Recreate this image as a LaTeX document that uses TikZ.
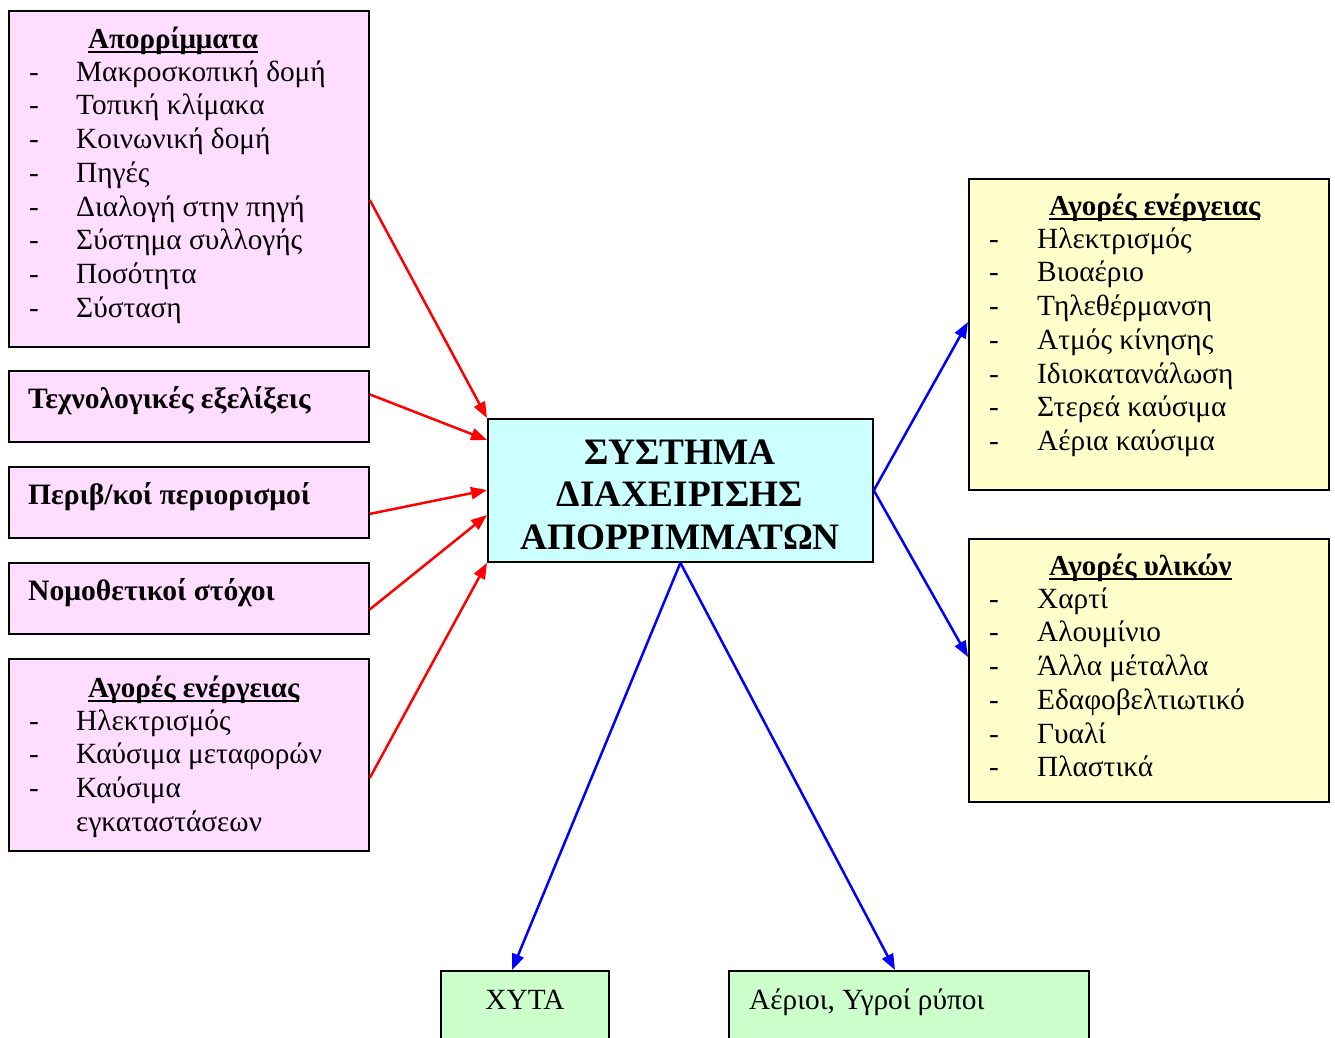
\documentclass[tikz,border=0pt]{standalone}
\usepackage{fontspec}
\setmainfont{Liberation Serif}
\usetikzlibrary{arrows.meta,calc}
\definecolor{pinkfill}{RGB}{255,221,255}
\definecolor{cyanfill}{RGB}{204,255,255}
\definecolor{yellowfill}{RGB}{255,255,204}
\definecolor{greenfill}{RGB}{204,255,204}
\definecolor{arrred}{RGB}{255,0,0}
\definecolor{arrblue}{RGB}{0,0,255}
\newcommand{\ulx}[1]{\setbox0\hbox{#1}\rlap{\rule[-4.5pt]{\wd0}{1.8pt}}\box0}
\begin{document}
\begin{tikzpicture}[x=1pt,y=-1pt,
  box/.style={draw=black,line width=1.8pt,inner sep=0pt,anchor=north west},
  pinkbox/.style={box,fill=pinkfill},
  yellowbox/.style={box,fill=yellowfill},
  greenbox/.style={box,fill=greenfill},
  cyanbox/.style={box,fill=cyanfill},
  itemtxt/.style={anchor=base west,inner sep=0pt,font=\fontsize{29.3}{33.7}\selectfont},
  titletxt/.style={anchor=base west,inner sep=0pt,font=\fontsize{29}{33.7}\selectfont\bfseries},
  labeltxt/.style={anchor=base west,inner sep=0pt,font=\fontsize{29.6}{33.7}\selectfont\bfseries},
  bigtxt/.style={anchor=base,inner sep=0pt,font=\fontsize{37.3}{42.5}\selectfont\bfseries},
  redarr/.style={draw=arrred,line width=2.5pt,-{Triangle[length=16pt,width=12pt]}},
  bluearr/.style={draw=arrblue,line width=2.5pt,-{Triangle[length=16pt,width=12pt]}}
]
\useasboundingbox (0,0) rectangle (1335,1037);
\fill[white] (0,0) rectangle (1335,1037);

% left boxes
\node[pinkbox,minimum width=360pt,minimum height=336pt] (A) at (8,10) {};
\node[pinkbox,minimum width=360pt,minimum height=71pt] (B) at (8,370) {};
\node[pinkbox,minimum width=360pt,minimum height=71pt] (C) at (8,466) {};
\node[pinkbox,minimum width=360pt,minimum height=71pt] (D) at (8,562) {};
\node[pinkbox,minimum width=360pt,minimum height=192pt] (E) at (8,658) {};
% centre
\node[cyanbox,minimum width=385pt,minimum height=143pt] (S) at (487,418) {};
% right boxes
\node[yellowbox,minimum width=360pt,minimum height=311pt] (R1) at (968,178) {};
\node[yellowbox,minimum width=360pt,minimum height=263pt] (R2) at (968,538) {};
% bottom boxes
\node[greenbox,minimum width=168pt,minimum height=90pt] (X) at (440,970) {};
\node[greenbox,minimum width=360pt,minimum height=90pt] (Y) at (728,970) {};

% texts box A
\node[titletxt] (Atitle) at (88,48) {\ulx{Απορρίμματα}};
\foreach \t [count=\i] in {Μακροσκοπική δομή,Τοπική κλίμακα,Κοινωνική δομή,Πηγές,Διαλογή στην πηγή,Σύστημα συλλογής,Ποσότητα,Σύσταση}{
  \node[itemtxt] (Ad\i) at (29,{81+(\i-1)*33.75}) {-};
  \node[itemtxt] (At\i) at (76,{81+(\i-1)*33.75}) {\t};
}
\node[labeltxt] (Bt) at (28,408) {Τεχνολογικές εξελίξεις};
\node[labeltxt] (Ct) at (28,504) {Περιβ/κοί περιορισμοί};
\node[labeltxt] (Dt) at (28,600) {Νομοθετικοί στόχοι};

% box E
\node[titletxt] (Etitle) at (88,697) {\ulx{Αγορές ενέργειας}};
\foreach \t [count=\i] in {Ηλεκτρισμός,Καύσιμα μεταφορών,Καύσιμα}{
  \node[itemtxt] (Ed\i) at (29,{730+(\i-1)*33.75}) {-};
  \node[itemtxt] (Et\i) at (76,{730+(\i-1)*33.75}) {\t};
}
\node[itemtxt] (Et4) at (76,831) {εγκαταστάσεων};

% centre text
\node[bigtxt] (S1) at (680,464) {ΣΥΣΤΗΜΑ};
\node[bigtxt] (S2) at (680,506) {ΔΙΑΧΕΙΡΙΣΗΣ};
\node[bigtxt] (S3) at (680,549) {ΑΠΟΡΡΙΜΜΑΤΩΝ};

% right box 1
\node[titletxt] (R1title) at (1049,215) {\ulx{Αγορές ενέργειας}};
\foreach \t [count=\i] in {Ηλεκτρισμός,Βιοαέριο,Τηλεθέρμανση,Ατμός κίνησης,Ιδιοκατανάλωση,Στερεά καύσιμα,Αέρια καύσιμα}{
  \node[itemtxt] (R1d\i) at (989,{248+(\i-1)*33.75}) {-};
  \node[itemtxt] (R1t\i) at (1037,{248+(\i-1)*33.75}) {\t};
}
% right box 2
\node[titletxt] (R2title) at (1049,575) {\ulx{Αγορές υλικών}};
\foreach \t [count=\i] in {Χαρτί,Αλουμίνιο,Άλλα μέταλλα,Εδαφοβελτιωτικό,Γυαλί,Πλαστικά}{
  \node[itemtxt] (R2d\i) at (989,{608+(\i-1)*33.75}) {-};
  \node[itemtxt] (R2t\i) at (1037,{608+(\i-1)*33.75}) {\t};
}
% bottom texts
\node[itemtxt,anchor=base] (Xt) at (525,1009) {ΧΥΤΑ};
\node[itemtxt] (Yt) at (749,1009) {Αέριοι, Υγροί ρύποι};

% red arrows
\draw[redarr] ([yshift=-190pt]A.north east) -- (S.north west);
\draw[redarr] ([yshift=12pt]B.east) -- ([yshift=-22pt]S.north west);
\draw[redarr] ([yshift=-11.5pt]C.east) -- ([yshift=-72pt]S.north west);
\draw[redarr] ([yshift=-11pt]D.east) -- ([yshift=-97pt]S.north west);
\draw[redarr] ([yshift=-23pt]E.east) -- (S.south west);
% blue arrows
\draw[bluearr] (S.east) -- ([yshift=-144pt]R1.north west);
\draw[bluearr] (S.east) -- ([yshift=-119pt]R2.north west);
\draw[bluearr] (S.south) -- ([xshift=72pt]X.north west);
\draw[bluearr] (S.south) -- ([xshift=167pt]Y.north west);
\end{tikzpicture}
\end{document}
